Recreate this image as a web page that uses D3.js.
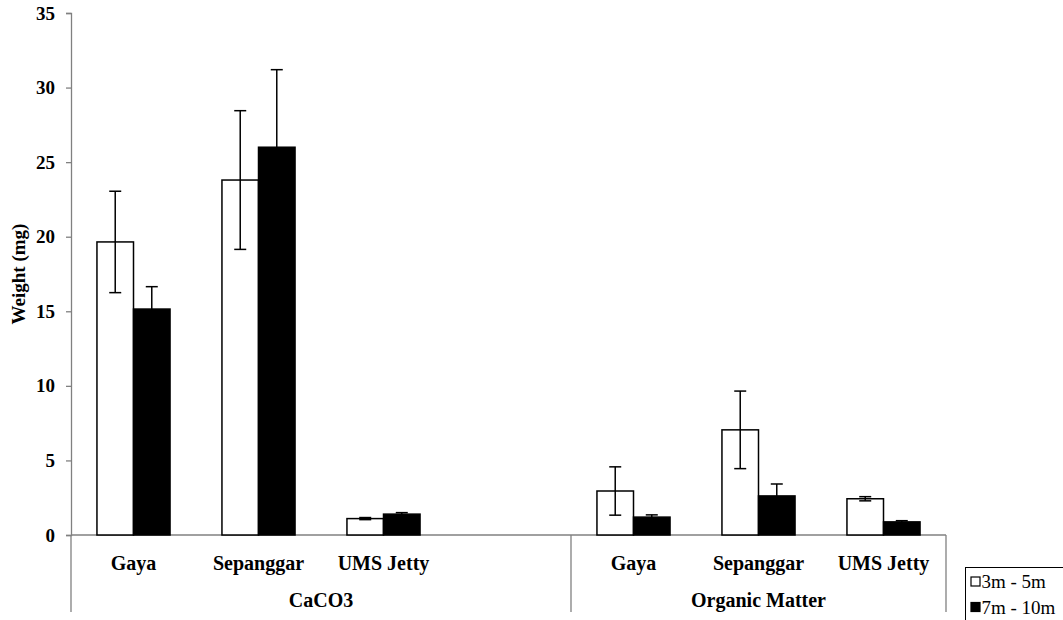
<!DOCTYPE html>
<html>
<head>
<meta charset="utf-8">
<script src="https://cdn.jsdelivr.net/npm/d3@7"></script>
<style>
  body { margin: 0; background: #fff; }
</style>
</head>
<body>
<script>
// data
const groups = ["CaCO3", "Organic Matter"];
const groupSlots = [4, 3];  // CaCO3 has one empty slot after UMS Jetty
const categories = ["Gaya", "Sepanggar", "UMS Jetty", "", "Gaya", "Sepanggar", "UMS Jetty"];
const series = ["3m - 5m", "7m - 10m"];
const shallow    = [19.65, 23.8, 1.1, null, 2.95, 7.05, 2.43];
const shallowErr = [3.4, 4.65, 0.07, null, 1.62, 2.6, 0.14];
const deep       = [15.15, 26.0, 1.4, null, 1.2, 2.62, 0.88];
const deepErr    = [1.5, 5.2, 0.1, null, 0.15, 0.8, 0.08];
const yTicks = [0, 5, 10, 15, 20, 25, 30, 35];

const W = 1063, H = 620;
const margin = {left: 71, right: 117, top: 13, bottom: 85};
const axisGray = "#808080";
const serif = "'Liberation Serif', 'Times New Roman', serif";

const svg = d3.select("body").append("svg")
  .attr("width", W)
  .attr("height", H)
  .style("display", "block")
  .style("font-family", serif);

// scales
const x0 = d3.scaleBand()
  .domain(d3.range(categories.length))
  .range([margin.left, W - margin.right]);

const x1 = d3.scaleBand()
  .domain(series)
  .range([0, x0.bandwidth()])
  .paddingOuter(0.71);

const y = d3.scaleLinear()
  .domain([0, 35])
  .range([H - margin.bottom, margin.top]);

const fills = {"3m - 5m": "#fff", "7m - 10m": "#000"};

// y axis
const yAxis = d3.axisLeft(y).tickValues(yTicks).tickSize(5).tickPadding(11);
const yG = svg.append("g")
  .attr("transform", `translate(${margin.left},0)`)
  .call(yAxis)
  .attr("font-family", null)
  .attr("font-size", null);
yG.select(".domain").attr("stroke", axisGray).attr("stroke-width", 1.3);
yG.selectAll(".tick line").attr("stroke", axisGray).attr("stroke-width", 1.3);
yG.selectAll(".tick text")
  .attr("fill", "#000")
  .style("font-family", serif)
  .style("font-size", "19px")
  .style("font-weight", "bold");

// y axis title
svg.append("text")
  .attr("transform", `translate(25,274) rotate(-90)`)
  .attr("text-anchor", "middle")
  .style("font-family", serif)
  .style("font-size", "19px")
  .style("font-weight", "bold")
  .text("Weight (mg)");

// category axis line and group separators
const baseY = y(0);
const lowY = 612;
svg.append("line")
  .attr("x1", margin.left).attr("x2", W - margin.right)
  .attr("y1", baseY).attr("y2", baseY)
  .attr("stroke", axisGray).attr("stroke-width", 1.3);

svg.append("line")
  .attr("x1", margin.left).attr("x2", margin.left)
  .attr("y1", baseY).attr("y2", lowY)
  .attr("stroke", axisGray).attr("stroke-width", 1.3);

let start = 0;
const groupSpans = groups.map((g, i) => {
  const a = start, b = start + groupSlots[i];
  start = b;
  return {name: g, x0: x0(a), x1: x0(b - 1) + x0.bandwidth()};
});

svg.selectAll(".sep")
  .data(groupSpans)
  .enter().append("line")
  .attr("class", "sep")
  .attr("x1", d => d.x1).attr("x2", d => d.x1)
  .attr("y1", baseY).attr("y2", lowY)
  .attr("stroke", axisGray).attr("stroke-width", 1.3);

// category labels
svg.selectAll(".cat")
  .data(categories)
  .enter().append("text")
  .attr("class", "cat")
  .attr("x", (d, i) => x0(i) + x0.bandwidth() / 2)
  .attr("y", 570)
  .attr("text-anchor", "middle")
  .style("font-family", serif)
  .style("font-size", "20px")
  .style("font-weight", "bold")
  .text(d => d);

svg.selectAll(".grp")
  .data(groupSpans)
  .enter().append("text")
  .attr("class", "grp")
  .attr("x", d => (d.x0 + d.x1) / 2)
  .attr("y", 607)
  .attr("text-anchor", "middle")
  .style("font-family", serif)
  .style("font-size", "20px")
  .style("font-weight", "bold")
  .text(d => d.name);

// bars
const rows = [];
categories.forEach((c, i) => {
  if (shallow[i] != null) rows.push({i, s: series[0], v: shallow[i], e: shallowErr[i]});
  if (deep[i] != null) rows.push({i, s: series[1], v: deep[i], e: deepErr[i]});
});

svg.selectAll(".bar")
  .data(rows)
  .enter().append("rect")
  .attr("class", "bar")
  .attr("x", d => x0(d.i) + x1(d.s))
  .attr("width", x1.bandwidth())
  .attr("y", d => y(d.v))
  .attr("height", d => y(0) - y(d.v))
  .attr("fill", d => fills[d.s])
  .attr("stroke", "#000")
  .attr("stroke-width", 1.5);

// error bars
const cap = 6;
const eb = svg.selectAll(".err")
  .data(rows)
  .enter().append("g")
  .attr("class", "err")
  .attr("transform", d => `translate(${x0(d.i) + x1(d.s) + x1.bandwidth() / 2},0)`)
  .attr("stroke", "#000")
  .attr("stroke-width", 1.5);

eb.append("line")
  .attr("y1", d => y(d.v + d.e)).attr("y2", d => y(d.v - d.e));
eb.append("line")
  .attr("x1", -cap).attr("x2", cap)
  .attr("y1", d => y(d.v + d.e)).attr("y2", d => y(d.v + d.e));
eb.append("line")
  .attr("x1", -cap).attr("x2", cap)
  .attr("y1", d => y(d.v - d.e)).attr("y2", d => y(d.v - d.e));

// legend (runs off the right edge like the original)
const legend = svg.append("g").attr("transform", "translate(965.5,567.5)");
legend.append("rect")
  .attr("width", 120).attr("height", 70)
  .attr("fill", "#fff").attr("stroke", "#000").attr("stroke-width", 1);

const li = legend.selectAll(".li")
  .data(series)
  .enter().append("g")
  .attr("class", "li")
  .attr("transform", (d, i) => `translate(0,${i * 25.5})`);

li.append("rect")
  .attr("x", 5.5).attr("y", 9.5)
  .attr("width", 9).attr("height", 9)
  .attr("fill", d => fills[d])
  .attr("stroke", "#000").attr("stroke-width", 1.2);

li.append("text")
  .attr("x", 16).attr("y", 20.5)
  .style("font-family", serif)
  .style("font-size", "19px")
  .text(d => d);
</script>
</body>
</html>
